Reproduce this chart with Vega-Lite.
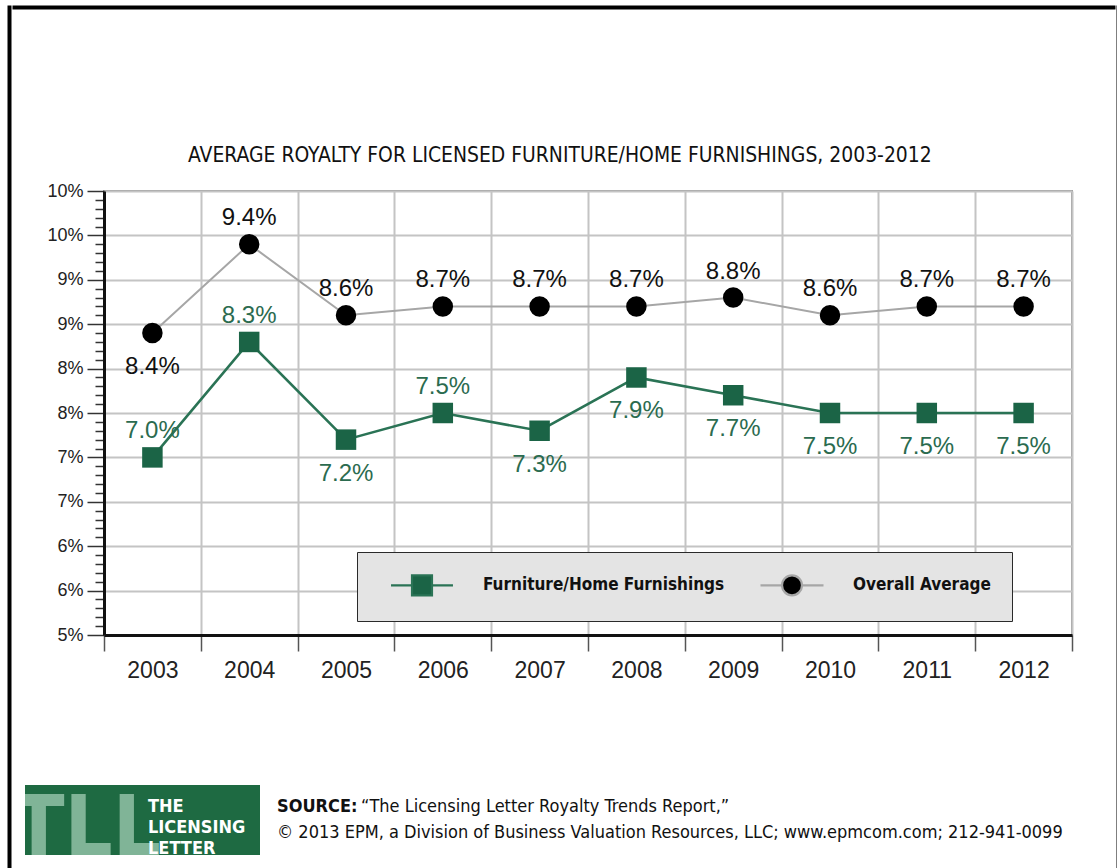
{
  "$schema": "https://vega.github.io/schema/vega-lite/v6.json",
  "background": "white",
  "padding": {"left": 7, "top": 0, "right": 0, "bottom": 0},
  "config": {
    "view": {"stroke": null},
    "font": "Liberation Sans",
    "locale": {"number": {"decimal": ".", "thousands": ",", "grouping": [3], "currency": ["", "%"]}}
  },
  "spacing": 0,
  "hconcat": [
    {
      "width": 1,
      "height": 880,
      "data": {"values": [{}]},
      "mark": {"type": "text", "text": ""},
      "view": {"stroke": "#000000", "strokeWidth": 3}
    },
    {
      "spacing": 130,
      "vconcat": [
        {
          "width": 1100,
          "height": 1,
          "data": {"values": [{}]},
          "mark": {"type": "text", "text": ""},
          "view": {"stroke": "#000000", "strokeWidth": 3}
        },
        {
          "spacing": 0,
          "hconcat": [
            {
              "width": 11,
              "height": 1,
              "data": {"values": [{}]},
              "mark": {"type": "text", "text": ""},
              "view": {"stroke": null}
            },
            {
              "spacing": 97,
              "vconcat": [
                {
                  "spacing": 0,
                  "hconcat": [
                    {
                      "width": 20,
                      "height": 444,
                      "data": {"values": [{}]},
                      "mark": {"type": "text", "text": ""},
                      "view": {"stroke": null}
                    },
                    {
                      "width": 968,
                      "height": 444,
                      "view": {"stroke": "#9a9a9a", "strokeWidth": 2},
                      "title": {
                        "text": "AVERAGE ROYALTY FOR LICENSED FURNITURE/HOME FURNISHINGS, 2003-2012",
                        "anchor": "middle",
                        "frame": "bounds",
                        "font": "DejaVu Sans Condensed, Liberation Sans Narrow, Liberation Sans, sans-serif",
                        "fontSize": 20.9,
                        "fontWeight": "normal",
                        "color": "#111111",
                        "baseline": "alphabetic",
                        "offset": -1
                      },
                      "data": {
                        "values": [
                          {"year": "2003", "series": "Furniture/Home Furnishings", "value": 7.0},
                          {"year": "2004", "series": "Furniture/Home Furnishings", "value": 8.3},
                          {"year": "2005", "series": "Furniture/Home Furnishings", "value": 7.2},
                          {"year": "2006", "series": "Furniture/Home Furnishings", "value": 7.5},
                          {"year": "2007", "series": "Furniture/Home Furnishings", "value": 7.3},
                          {"year": "2008", "series": "Furniture/Home Furnishings", "value": 7.9},
                          {"year": "2009", "series": "Furniture/Home Furnishings", "value": 7.7},
                          {"year": "2010", "series": "Furniture/Home Furnishings", "value": 7.5},
                          {"year": "2011", "series": "Furniture/Home Furnishings", "value": 7.5},
                          {"year": "2012", "series": "Furniture/Home Furnishings", "value": 7.5},
                          {"year": "2003", "series": "Overall Average", "value": 8.4},
                          {"year": "2004", "series": "Overall Average", "value": 9.4},
                          {"year": "2005", "series": "Overall Average", "value": 8.6},
                          {"year": "2006", "series": "Overall Average", "value": 8.7},
                          {"year": "2007", "series": "Overall Average", "value": 8.7},
                          {"year": "2008", "series": "Overall Average", "value": 8.7},
                          {"year": "2009", "series": "Overall Average", "value": 8.8},
                          {"year": "2010", "series": "Overall Average", "value": 8.6},
                          {"year": "2011", "series": "Overall Average", "value": 8.7},
                          {"year": "2012", "series": "Overall Average", "value": 8.7}
                        ]
                      },
                      "encoding": {
                        "x": {
                          "field": "year",
                          "type": "ordinal",
                          "scale": {"type": "band", "paddingInner": 0, "paddingOuter": 0},
                          "axis": {
                            "title": null,
                            "tickBand": "extent",
                            "grid": true,
                            "gridColor": "#c4c4c4",
                            "gridWidth": 2,
                            "domainColor": "#111111",
                            "domainWidth": 3,
                            "tickColor": "#555555",
                            "tickWidth": 1.5,
                            "tickSize": 16,
                            "labelAngle": 0,
                            "labelFont": "Liberation Sans",
                            "labelFontSize": 23,
                            "labelColor": "#222222",
                            "labelPadding": 8
                          }
                        },
                        "y": {
                          "field": "value",
                          "type": "quantitative",
                          "scale": {"domain": [5, 10], "nice": false, "zero": false},
                          "axis": {
                            "title": null,
                            "values": [5,5.1,5.2,5.3,5.4,5.5,5.6,5.7,5.8,5.9,6,6.1,6.2,6.3,6.4,6.5,6.6,6.7,6.8,6.9,7,7.1,7.2,7.3,7.4,7.5,7.6,7.7,7.8,7.9,8,8.1,8.2,8.3,8.4,8.5,8.6,8.7,8.8,8.9,9,9.1,9.2,9.3,9.4,9.5,9.6,9.7,9.8,9.9,10],
                            "labelExpr": "abs(datum.value*2 - round(datum.value*2)) < 0.01 ? format(datum.value, '.0f') + '%' : ''",
                            "grid": true,
                            "gridColor": "#c4c4c4",
                            "gridWidth": 2,
                            "gridOpacity": {"condition": {"test": "abs(datum.value*2 - round(datum.value*2)) < 0.01", "value": 1}, "value": 0},
                            "tickSize": {"condition": {"test": "abs(datum.value*2 - round(datum.value*2)) < 0.01", "value": 17}, "value": 9},
                            "tickColor": "#333333",
                            "tickWidth": 1.5,
                            "domainColor": "#111111",
                            "domainWidth": 3,
                            "labelFont": "Liberation Sans",
                            "labelFontSize": 18,
                            "labelColor": "#222222",
                            "labelPadding": 4
                          }
                        }
                      },
                      "layer": [
                        {
                          "mark": {"type": "line"},
                          "encoding": {
                            "detail": {"field": "series", "type": "nominal"},
                            "stroke": {"condition": {"test": "datum.series == 'Overall Average'", "value": "#a6a6a6"}, "value": "#2a7355"},
                            "strokeWidth": {"condition": {"test": "datum.series == 'Overall Average'", "value": 2}, "value": 2.6}
                          }
                        },
                        {
                          "transform": [{"filter": "false"}],
                          "mark": {"type": "point", "filled": true},
                          "encoding": {
                            "fill": {
                              "field": "series",
                              "type": "nominal",
                              "scale": {"domain": ["Furniture/Home Furnishings", "Overall Average"], "range": ["#1b6446", "#000000"]}
                            },
                            "stroke": {
                              "field": "series",
                              "type": "nominal",
                              "scale": {"domain": ["Furniture/Home Furnishings", "Overall Average"], "range": ["#2a7355", "#a6a6a6"]}
                            },
                            "shape": {
                              "field": "series",
                              "type": "nominal",
                              "scale": {"domain": ["Furniture/Home Furnishings", "Overall Average"], "range": ["M-2.95,0H-0.95M0.95,0H2.95M-0.95,-0.95H0.95V0.95H-0.95Z", "M-3,0H-0.95M0.95,0H3M0.95,0A0.95,0.95,0,1,1,-0.95,0A0.95,0.95,0,1,1,0.95,0Z"]},
                              "legend": {
                                "title": null,
                                "orient": "none",
                                "legendX": 348,
                                "legendY": 545,
                                "direction": "horizontal",
                                "fillColor": "#e4e4e4",
                                "strokeColor": "#2a2a2a",
                                "padding": 21,
                                "symbolSize": 441,
                                "symbolOffset": 32,
                                "symbolStrokeWidth": 2.2,
                                "symbolOpacity": 1,
                                "labelFont": "DejaVu Sans Condensed, Liberation Sans Narrow, Liberation Sans, sans-serif",
                                "labelFontSize": 17,
                                "labelFontWeight": "bold",
                                "labelColor": "#111111",
                                "labelOffset": 49,
                                "labelLimit": 500,
                                "columnPadding": 23
                              }
                            }
                          }
                        },
                        {
                          "mark": {"type": "point", "filled": true, "size": 420, "opacity": 1},
                          "encoding": {
                            "shape": {"condition": {"test": "datum.series == 'Overall Average'", "value": "circle"}, "value": "square"},
                            "color": {"condition": {"test": "datum.series == 'Overall Average'", "value": "#000000"}, "value": "#1b6446"}
                          }
                        },
                        {
                          "transform": [{"filter": "(datum.series == 'Overall Average' && datum.year != '2003') || (datum.series == 'Furniture/Home Furnishings' && (datum.year == '2003' || datum.year == '2004' || datum.year == '2006'))"}],
                          "mark": {"type": "text", "font": "Liberation Sans", "fontSize": 24, "baseline": "alphabetic", "dy": -19},
                          "encoding": {
                            "text": {"field": "value", "type": "quantitative", "format": "$.1f"},
                            "color": {"condition": {"test": "datum.series == 'Overall Average'", "value": "#111111"}, "value": "#2b6b4f"}
                          }
                        },
                        {
                          "transform": [{"filter": "(datum.series == 'Overall Average' && datum.year == '2003') || (datum.series == 'Furniture/Home Furnishings' && datum.year != '2003' && datum.year != '2004' && datum.year != '2006')"}],
                          "mark": {"type": "text", "font": "Liberation Sans", "fontSize": 24, "baseline": "alphabetic", "dy": 41},
                          "encoding": {
                            "text": {"field": "value", "type": "quantitative", "format": "$.1f"},
                            "color": {"condition": {"test": "datum.series == 'Overall Average'", "value": "#111111"}, "value": "#2b6b4f"}
                          }
                        }
                      ]
                    }
                  ]
                },
                {
                  "spacing": 17,
                  "hconcat": [
                    {
                      "width": 235,
                      "height": 70,
                      "view": {"stroke": null, "fill": "#1e6a42"},
                      "data": {"values": [{"item": "TLL"}, {"item": "THE LICENSING LETTER"}]},
                      "encoding": {
                        "x": {"field": "item", "type": "nominal", "axis": null, "scale": {"type": "point", "padding": 0, "domain": ["TLL", "THE LICENSING LETTER"], "range": [62, 123]}}
                      },
                      "layer": [
                        {
                          "transform": [{"filter": "datum.item == 'TLL'"}],
                          "mark": {"type": "text", "font": "DejaVu Sans Condensed, Liberation Sans Narrow, Liberation Sans, sans-serif", "fontWeight": "bold", "fontSize": 84, "color": "#80b497", "align": "center", "baseline": "alphabetic", "dy": 35, "clip": true},
                          "encoding": {"text": {"field": "item"}}
                        },
                        {
                          "transform": [{"filter": "datum.item != 'TLL'"}],
                          "mark": {"type": "text", "font": "DejaVu Sans Condensed, Liberation Sans Narrow, Liberation Sans, sans-serif", "fontWeight": "bold", "fontSize": 18, "lineBreak": " ", "lineHeight": 21, "color": "white", "align": "left", "baseline": "middle", "dy": -13},
                          "encoding": {"text": {"field": "item"}}
                        }
                      ]
                    },
                    {
                      "spacing": 0,
                      "bounds": "flush",
                      "hconcat": [
                        {
                          "width": 84,
                          "height": 2,
                          "data": {"values": [{}]},
                          "mark": {"type": "text", "text": ""},
                          "view": {"stroke": null},
                          "title": {
                            "text": "SOURCE:",
                            "subtitle": "© 2013 EPM, a Division of Business Valuation Resources, LLC; www.epmcom.com; 212-941-0099",
                            "orient": "bottom",
                            "anchor": "start",
                            "frame": "group",
                            "offset": 7,
                            "font": "DejaVu Sans Condensed, Liberation Sans Narrow, Liberation Sans, sans-serif",
                            "fontSize": 18,
                            "fontWeight": "bold",
                            "color": "#111111",
                            "subtitleFont": "DejaVu Sans Condensed, Liberation Sans Narrow, Liberation Sans, sans-serif",
                            "subtitleFontSize": 18,
                            "subtitleFontWeight": "normal",
                            "subtitleColor": "#111111",
                            "subtitlePadding": 8
                          }
                        },
                        {
                          "width": 700,
                          "height": 2,
                          "data": {"values": [{}]},
                          "mark": {"type": "text", "text": ""},
                          "view": {"stroke": null},
                          "title": {
                            "text": "“The Licensing Letter Royalty Trends Report,”",
                            "orient": "bottom",
                            "anchor": "start",
                            "frame": "group",
                            "offset": 7,
                            "font": "DejaVu Sans Condensed, Liberation Sans Narrow, Liberation Sans, sans-serif",
                            "fontSize": 18,
                            "fontWeight": "normal",
                            "color": "#111111"
                          }
                        }
                      ]
                    }
                  ]
                }
              ]
            }
          ]
        }
      ]
    },
    {
      "width": 1,
      "height": 880,
      "data": {"values": [{}]},
      "mark": {"type": "text", "text": ""},
      "view": {"stroke": "#000000", "strokeWidth": 3}
    }
  ]
}
